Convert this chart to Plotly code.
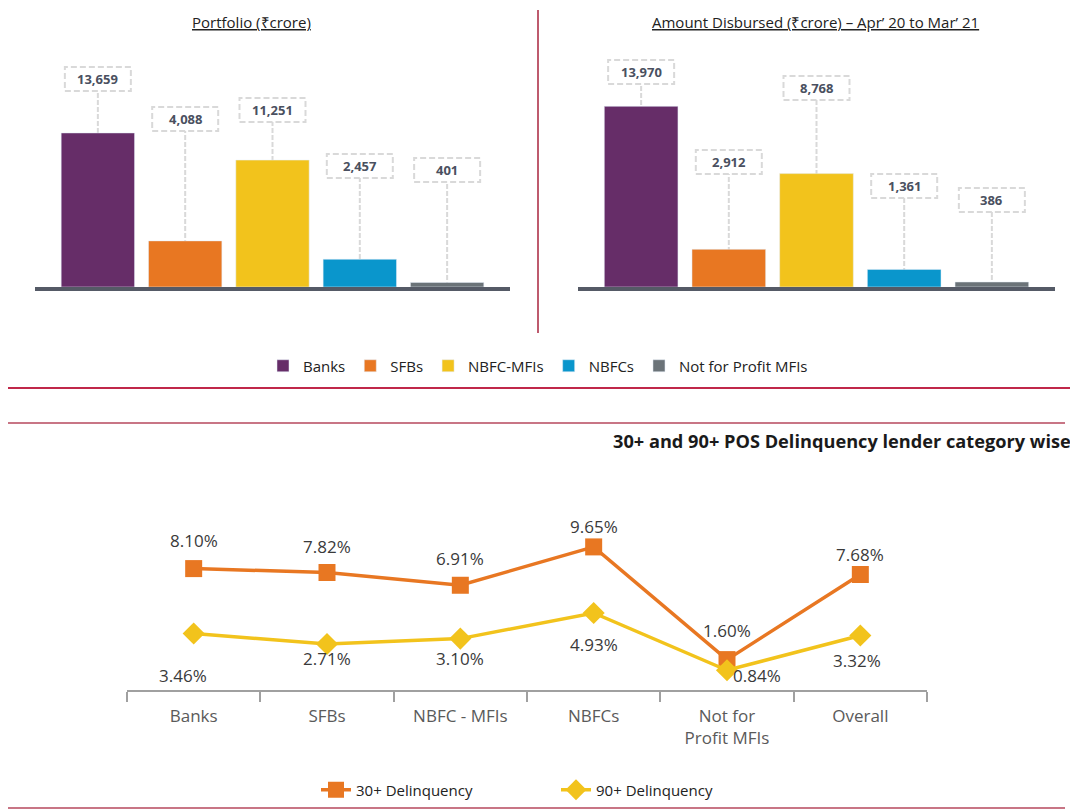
import plotly.graph_objects as go

# ---------------- DATA ----------------
categories = ["Banks", "SFBs", "NBFC-MFIs", "NBFCs", "Not for Profit MFIs"]
portfolio = [13659, 4088, 11251, 2457, 401]
disbursed = [13970, 2912, 8768, 1361, 386]
bar_colors = ["#662d68", "#e87722", "#f2c31c", "#0a96cc", "#6b7378"]

delq_categories = ["Banks", "SFBs", "NBFC - MFIs", "NBFCs", "Not for<br>Profit MFIs", "Overall"]
delq_30 = [8.10, 7.82, 6.91, 9.65, 1.60, 7.68]
delq_90 = [3.46, 2.71, 3.10, 4.93, 0.84, 3.32]

# label box heights above baseline (px) and label offsets (px) - styling only
port_label_h = [208, 168, 177, 121, 117]
disb_label_h = [215, 125, 199, 101, 87]
lbl30_yshift = [28, 26, 27, 20, 29, 20]
lbl90_yshift = [-42, -14, -20, -32, -5, -25]
lbl90_xshift = [-11, 0, 0, 0, 30, -3]

# page body has an 8px margin, so the figure is a bit smaller than the window
PAD = 8
W, H = 1078 - PAD, 812 - PAD
FONT = "Open Sans"
BAR_H = 247  # px height of bar plot area


def px_x(p):
    return (p - PAD) / W


def px_y(p):
    return 1 - (p - PAD) / H


fig = go.Figure()

# ---------------- BARS ----------------
for i, cat in enumerate(categories):
    fig.add_trace(go.Bar(
        x=[cat], y=[portfolio[i]], name=cat, marker_color=bar_colors[i],
        width=0.84, xaxis="x", yaxis="y", legend="legend", hoverinfo="y"
    ))
for i, cat in enumerate(categories):
    fig.add_trace(go.Bar(
        x=[cat], y=[disbursed[i]], name=cat, marker_color=bar_colors[i],
        width=0.84, xaxis="x2", yaxis="y2", showlegend=False, hoverinfo="y"
    ))

shapes = []
annotations = []


def add_labels(values, heights, xref, yref):
    for i, v in enumerate(values):
        h = heights[i] / BAR_H
        half = 12 / BAR_H
        shapes.append(dict(type="line", xref=xref, yref=yref + " domain", x0=i, x1=i,
                           y0=0, y1=h - half, layer="below",
                           line=dict(color="#d9d9d9", width=2, dash="5px,2px")))
        shapes.append(dict(type="rect", xref=xref, yref=yref + " domain",
                           xsizemode="pixel", xanchor=i, x0=-33, x1=33,
                           y0=h - half, y1=h + half,
                           line=dict(color="#d9d9d9", width=2, dash="6px,3px")))
        annotations.append(dict(xref=xref, yref=yref + " domain", x=i, y=h,
                                xanchor="center", yanchor="middle",
                                text="<b>{:,}</b>".format(v), showarrow=False,
                                font=dict(family=FONT, size=13, color="#4a5060")))


add_labels(portfolio, port_label_h, "x", "y")
add_labels(disbursed, disb_label_h, "x2", "y2")

# ---------------- LINES ----------------
fig.add_trace(go.Scatter(
    x=delq_categories, y=delq_30, name="30+ Delinquency", mode="lines+markers",
    line=dict(color="#e87722", width=3.5),
    marker=dict(symbol="square", size=17, color="#e87722"),
    xaxis="x3", yaxis="y3", legend="legend2"
))
fig.add_trace(go.Scatter(
    x=delq_categories, y=delq_90, name="90+ Delinquency", mode="lines+markers",
    line=dict(color="#f2c31c", width=3.5),
    marker=dict(symbol="diamond", size=17, color="#f2c31c"),
    xaxis="x3", yaxis="y3", legend="legend2"
))

for i, c in enumerate(delq_categories):
    annotations.append(dict(xref="x3", yref="y3", x=c, y=delq_30[i],
                            xanchor="center", yanchor="middle",
                            text="{:.2f}%".format(delq_30[i]), showarrow=False,
                            yshift=lbl30_yshift[i],
                            font=dict(family=FONT, size=17, color="#3a3a3a")))
    annotations.append(dict(xref="x3", yref="y3", x=c, y=delq_90[i],
                            xanchor="center", yanchor="middle",
                            text="{:.2f}%".format(delq_90[i]), showarrow=False,
                            yshift=lbl90_yshift[i], xshift=lbl90_xshift[i],
                            font=dict(family=FONT, size=17, color="#3a3a3a")))

# ---------------- TITLES ----------------
annotations += [
    dict(xref="paper", yref="paper", x=px_x(251), y=px_y(22), xanchor="center",
         yanchor="middle", showarrow=False, text="<u>Portfolio (₹crore)</u>",
         font=dict(family=FONT, size=15, color="#222")),
    dict(xref="paper", yref="paper", x=px_x(815), y=px_y(22), xanchor="center",
         yanchor="middle", showarrow=False,
         text="<u>Amount Disbursed (₹crore) – Apr’ 20 to Mar’ 21</u>",
         font=dict(family=FONT, size=15, color="#222")),
    dict(xref="paper", yref="paper", x=px_x(1073), y=px_y(441), xanchor="right",
         yanchor="middle", showarrow=False,
         text="<b>30+ and 90+ POS Delinquency lender category wise</b>",
         font=dict(family=FONT, size=18.2, color="#1a1a1a")),
]

# ---------------- DIVIDERS ----------------
shapes += [
    dict(type="line", xref="paper", yref="paper", x0=px_x(538), x1=px_x(538),
         y0=px_y(10), y1=px_y(333), line=dict(color="#a8243e", width=1.5)),
    dict(type="line", xref="paper", yref="paper", x0=px_x(8), x1=1,
         y0=px_y(388), y1=px_y(388), line=dict(color="#c0284a", width=2)),
    dict(type="line", xref="paper", yref="paper", x0=0, x1=px_x(1065),
         y0=px_y(423), y1=px_y(423), line=dict(color="#c87585", width=2)),
    dict(type="line", xref="paper", yref="paper", x0=0, x1=px_x(1065),
         y0=px_y(808), y1=px_y(808), line=dict(color="#c87585", width=2)),
]

bar_x = dict(type="category", categoryorder="array", categoryarray=categories,
             range=[-0.72, 4.72], showticklabels=False, ticks="",
             showline=True, linecolor="#555a66", linewidth=4, showgrid=False,
             zeroline=False, fixedrange=True)
bar_y = dict(domain=[px_y(287), px_y(40)], visible=False, showgrid=False,
             zeroline=False, fixedrange=True)

fig.update_layout(
    width=W, height=H, autosize=False,
    margin=dict(l=0, r=0, t=0, b=0),
    paper_bgcolor="white", plot_bgcolor="rgba(0,0,0,0)",
    font=dict(family=FONT, color="#222"),
    barmode="relative",
    xaxis=dict(bar_x, domain=[px_x(35), px_x(510)], anchor="y"),
    yaxis=dict(bar_y, range=[0, 21900], anchor="x"),
    xaxis2=dict(bar_x, domain=[px_x(578), px_x(1055)], anchor="y2"),
    yaxis2=dict(bar_y, range=[0, 19100], anchor="x2"),
    xaxis3=dict(domain=[px_x(127), px_x(927)], anchor="y3", type="category",
                range=[-0.5, 5.5], showline=True, linecolor="#a0a0a0", linewidth=1.5,
                ticks="outside", tickson="boundaries", ticklen=10, tickcolor="#a0a0a0",
                tickwidth=1.5, showgrid=False, zeroline=False, ticklabelstandoff=10,
                tickfont=dict(family=FONT, size=17, color="#5a5a5a"), fixedrange=True),
    yaxis3=dict(domain=[px_y(690), px_y(500)], anchor="x3", range=[-0.571, 13.0],
                visible=False, showgrid=False, zeroline=False, fixedrange=True),
    legend=dict(orientation="h", x=px_x(538), xanchor="center", y=px_y(366),
                yanchor="middle", itemwidth=30,
                font=dict(family=FONT, size=15, color="#222"),
                bgcolor="rgba(0,0,0,0)"),
    legend2=dict(orientation="h", x=px_x(556), xanchor="center", y=px_y(790),
                 yanchor="middle", entrywidth=195,
                 font=dict(family=FONT, size=15, color="#222"),
                 bgcolor="rgba(0,0,0,0)"),
    shapes=shapes,
    annotations=annotations,
)

fig.write_html("out.html")
